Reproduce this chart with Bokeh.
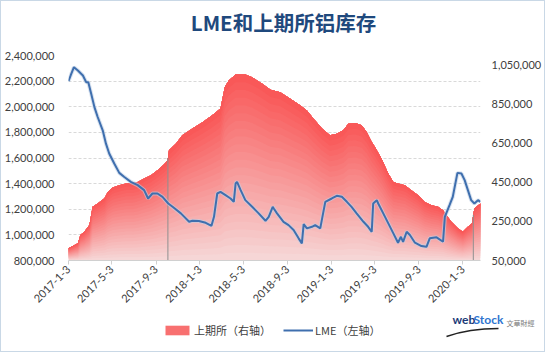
import math
import numpy as np
import pandas as pd
from bokeh.plotting import figure
from bokeh.layouts import column
from bokeh.models import (Range1d, LinearAxis, FixedTicker, NumeralTickFormatter,
                          Legend, LegendItem, Label)
from bokeh.embed import file_html
from bokeh.resources import INLINE

title_text = "LME和上期所铝库存"

lme_dates = [
    "2017-01-03", "2017-01-09", "2017-01-18", "2017-01-29", "2017-02-12", "2017-02-21",
    "2017-02-27", "2017-03-07", "2017-03-16", "2017-03-25", "2017-04-08", "2017-04-17",
    "2017-04-26", "2017-05-10", "2017-05-24", "2017-06-07", "2017-06-25", "2017-07-14",
    "2017-08-01", "2017-08-12", "2017-08-24", "2017-09-07", "2017-09-21", "2017-10-07",
    "2017-10-19", "2017-11-11", "2017-12-04", "2017-12-13", "2017-12-31", "2018-01-19",
    "2018-02-04", "2018-02-11", "2018-02-20", "2018-03-01", "2018-03-15", "2018-03-29",
    "2018-04-07", "2018-04-12", "2018-04-16", "2018-04-26", "2018-05-09", "2018-05-28",
    "2018-06-15", "2018-07-04", "2018-07-13", "2018-07-24", "2018-07-27", "2018-08-05",
    "2018-08-23", "2018-09-06", "2018-09-20", "2018-10-04", "2018-10-13", "2018-10-18",
    "2018-10-27", "2018-11-10", "2018-11-19", "2018-12-03", "2018-12-17", "2019-01-04",
    "2019-01-18", "2019-02-01", "2019-02-15", "2019-02-28", "2019-03-14", "2019-04-02",
    "2019-04-15", "2019-04-25", "2019-04-29", "2019-05-09", "2019-05-13", "2019-05-27",
    "2019-06-10", "2019-06-24", "2019-07-07", "2019-07-15", "2019-07-21", "2019-07-31",
    "2019-08-09", "2019-08-23", "2019-09-10", "2019-09-24", "2019-10-03", "2019-10-22",
    "2019-11-09", "2019-11-14", "2019-11-27", "2019-12-06", "2019-12-19", "2019-12-30",
    "2020-01-08", "2020-01-17", "2020-01-26", "2020-02-04", "2020-02-14", "2020-02-21",
]
lme_values = [
    2200000, 2244000, 2309000, 2283000, 2244000, 2192000,
    2192000, 2102000, 1997000, 1920000, 1816000, 1712000,
    1635000, 1557000, 1484000, 1452000, 1414000, 1388000,
    1349000, 1284000, 1323000, 1323000, 1297000, 1245000,
    1219000, 1168000, 1102000, 1110000, 1108000, 1094000,
    1071000, 1141000, 1323000, 1336000, 1310000, 1284000,
    1258000, 1401000, 1414000, 1349000, 1271000, 1219000,
    1168000, 1110000, 1141000, 1219000, 1206000, 1168000,
    1102000, 1076000, 1038000, 973000, 934000, 1084000,
    1051000, 1063000, 1076000, 1051000, 1258000, 1284000,
    1305000, 1297000, 1258000, 1219000, 1168000, 1102000,
    1063000, 1024000, 1245000, 1271000, 1245000, 1168000,
    1090000, 1012000, 939000, 985000, 946000, 1024000,
    999000, 939000, 913000, 907000, 973000, 981000,
    946000, 1141000, 1232000, 1297000, 1484000, 1479000,
    1427000, 1349000, 1271000, 1245000, 1271000, 1258000,
]

shfe_dates = [
    "2017-01-03", "2017-01-15", "2017-01-29", "2017-02-05", "2017-02-16", "2017-03-02",
    "2017-03-11", "2017-03-25", "2017-04-13", "2017-04-22", "2017-05-06", "2017-05-24",
    "2017-06-12", "2017-06-30", "2017-07-14", "2017-08-01", "2017-08-20", "2017-09-07",
    "2017-09-25", "2017-10-05", "2017-10-09", "2017-10-28", "2017-11-15", "2017-12-13",
    "2018-01-10", "2018-02-06", "2018-03-01", "2018-03-13", "2018-03-24", "2018-04-12",
    "2018-05-09", "2018-05-28", "2018-06-25", "2018-07-18", "2018-08-14", "2018-09-11",
    "2018-10-09", "2018-10-27", "2018-11-14", "2018-12-08", "2018-12-30", "2019-01-18",
    "2019-02-05", "2019-02-19", "2019-03-10", "2019-03-28", "2019-04-11", "2019-04-25",
    "2019-05-04", "2019-05-22", "2019-06-10", "2019-06-24", "2019-07-07", "2019-07-26",
    "2019-08-13", "2019-09-01", "2019-09-19", "2019-10-08", "2019-10-26", "2019-11-09",
    "2019-11-18", "2019-12-02", "2019-12-20", "2020-01-03", "2020-01-17", "2020-01-28",
    "2020-02-04", "2020-02-21",
]
shfe_values = [
    112000, 124000, 138000, 180000, 197000, 231000,
    324000, 341000, 367000, 400000, 423000, 434000,
    443000, 443000, 451000, 468000, 485000, 511000,
    540000, 560000, 612000, 646000, 689000, 723000,
    756000, 791000, 825000, 935000, 969000, 999000,
    999000, 985000, 952000, 921000, 909000, 875000,
    841000, 816000, 774000, 723000, 689000, 697000,
    714000, 748000, 751000, 740000, 706000, 655000,
    629000, 570000, 494000, 451000, 443000, 434000,
    409000, 383000, 349000, 332000, 324000, 307000,
    282000, 248000, 214000, 197000, 222000, 239000,
    316000, 341000,
]

gap_dates = ["2017-10-06", "2020-02-01"]

tick_dates = ["2017-01-03", "2017-05-03", "2017-09-03", "2018-01-03", "2018-05-03",
              "2018-09-03", "2019-01-03", "2019-05-03", "2019-09-03", "2020-01-03"]
tick_labels = ["2017-1-3", "2017-5-3", "2017-9-3", "2018-1-3", "2018-5-3",
               "2018-9-3", "2019-1-3", "2019-5-3", "2019-9-3", "2020-1-3"]
left_ticks = [800000, 1000000, 1200000, 1400000, 1600000, 1800000, 2000000, 2200000, 2400000]
right_ticks = [50000, 250000, 450000, 650000, 850000, 1050000]

x_start, x_end = "2017-01-03", "2020-02-21"
left_min, left_max = 800000, 2400000
right_min, right_max = 50000, 1096000

legend_labels = ["上期所（右轴）", "LME（左轴）"]
logo_parts = ["web", "Stock", "文華財經"]


def ms(d):
    return pd.Timestamp(d).value / 1e6


label_font = "Lato"
cjk_font = "Noto Sans CJK SC"
text_col = "#404040"
red_col = "#F87070"
blue_col = "#3F6FAE"

W = 543
H_TOP = 40
H_MAIN = 271
H_STRIP = 39


def strip(height):
    f = figure(width=W, height=height, output_backend="svg", toolbar_location=None,
               x_range=Range1d(0, W), y_range=Range1d(0, height),
               x_axis_location=None, y_axis_location=None,
               min_border=0, min_border_left=0, min_border_right=0,
               min_border_top=0, min_border_bottom=0,
               background_fill_color="white", border_fill_color="white",
               outline_line_color=None)
    f.frame_align = False
    f.grid.visible = False
    return f


# title strip
t = strip(H_TOP)
t.add_layout(Label(x=282, y=20, text=title_text, text_font=cjk_font,
                   text_font_style="bold", text_font_size="20.5px", text_color="#1F497D",
                   text_align="center", text_baseline="middle"))

p = figure(width=W, height=H_MAIN, output_backend="svg", toolbar_location=None,
           x_range=Range1d(ms(x_start), ms(x_end)),
           y_range=Range1d(left_min, left_max),
           min_border_left=66, min_border_right=63, min_border_top=14, min_border_bottom=52,
           background_fill_color="white", border_fill_color="white",
           outline_line_color=None)
p.frame_align = False
p.extra_y_ranges = {"right": Range1d(right_min, right_max)}

# gradient-filled SHFE area (right axis): stacked layers from pale pink to red
xs = [ms(d) for d in shfe_dates]
sv = np.array(shfe_values, dtype=float)
N = 24
c_bot = np.array([246, 214, 214])
c_top = np.array([249, 88, 88])
for k in range(N):
    tt = k / (N - 1)
    c = c_bot + (c_top - c_bot) * tt
    col = "#%02x%02x%02x" % tuple(int(round(v)) for v in c)
    y1 = right_min + (sv - right_min) * (k / N)
    p.varea(x=xs, y1=y1, y2=sv, fill_color=col, y_range_name="right")

gx = [ms(d) for d in gap_dates]
gy = np.interp(gx, xs, sv)
p.segment(x0=gx, y0=[right_min] * len(gx), x1=gx, y1=gy, y_range_name="right",
          line_color="#8f8f8f", line_width=1)

lx = [ms(d) for d in lme_dates]
p.line(x=lx, y=lme_values, line_color="#BFD0E6", line_width=4, line_alpha=0.6)
p.line(x=lx, y=lme_values, line_color=blue_col, line_width=2)

# axes
xa = p.xaxis[0]
xa.ticker = FixedTicker(ticks=[ms(d) for d in tick_dates])
xa.major_label_overrides = {ms(d): lab for d, lab in zip(tick_dates, tick_labels)}
xa.major_label_orientation = math.pi / 4
xa.axis_line_color = "#D0D0D0"
xa.major_tick_line_color = "#D0D0D0"
xa.major_tick_out = 4
xa.major_tick_in = 0
xa.minor_tick_line_color = None
xa.major_label_text_font = label_font
xa.major_label_text_font_size = "11px"
xa.major_label_text_color = text_col
xa.major_label_standoff = 3

ya = p.yaxis[0]
ya.ticker = FixedTicker(ticks=left_ticks)
ya.formatter = NumeralTickFormatter(format="0,0")
ya.axis_line_color = None
ya.major_tick_line_color = None
ya.minor_tick_line_color = None
ya.major_label_text_font = label_font
ya.major_label_text_font_size = "11px"
ya.major_label_text_color = text_col
ya.major_label_standoff = 8

ra = LinearAxis(y_range_name="right", ticker=FixedTicker(ticks=right_ticks),
                formatter=NumeralTickFormatter(format="0,0"))
ra.axis_line_color = None
ra.major_tick_line_color = None
ra.minor_tick_line_color = None
ra.major_label_text_font = label_font
ra.major_label_text_font_size = "11px"
ra.major_label_text_color = text_col
ra.major_label_standoff = 5
p.add_layout(ra, "right")

p.xgrid.grid_line_color = None
p.ygrid.ticker = FixedTicker(ticks=left_ticks[1:])
p.ygrid.grid_line_color = "#D9D9D9"
p.ygrid.grid_line_dash = "3 2"

# bottom strip with legend and logo
q = strip(H_STRIP)
# legend proxies kept outside the visible range
lr_area = q.varea(x=[-30, -20], y1=[0, 0], y2=[5, 5], fill_color=red_col)
lr_line = q.line(x=[-30, -20], y=[5, 5], line_color=blue_col, line_width=2)
legend = Legend(items=[LegendItem(label=legend_labels[0], renderers=[lr_area]),
                       LegendItem(label=legend_labels[1], renderers=[lr_line])],
                orientation="horizontal", location=(161, 13))
legend.label_text_font = cjk_font
legend.label_text_font_size = "11px"
legend.label_text_color = text_col
legend.glyph_width = 30
legend.glyph_height = 12
legend.label_standoff = 2
legend.spacing = 12
legend.padding = 0
legend.margin = 0
legend.border_line_color = None
legend.background_fill_alpha = 0
q.add_layout(legend)

q.add_layout(Label(x=451, y=25, text=logo_parts[0], text_font=label_font,
                   text_font_style="bold", text_font_size="12px", text_color="#1C3B78"))
q.add_layout(Label(x=472, y=25, text=logo_parts[1], text_font=label_font,
                   text_font_style="bold", text_font_size="12px", text_color="#2E75D0"))
q.add_layout(Label(x=505, y=29, text=logo_parts[2], text_font=cjk_font,
                   text_baseline="middle", text_font_size="7px", text_color="#808080"))
q.bezier(x0=[445], y0=[15], x1=[497], y1=[23], cx0=[462], cy0=[21], cx1=[480], cy1=[23],
         line_color="#222222", line_width=1.5)

layout = column(t, p, q, spacing=0)
layout.styles = {"border": "1px solid #C9D8E6"}

open("out.html", "w").write(file_html(layout, INLINE))
